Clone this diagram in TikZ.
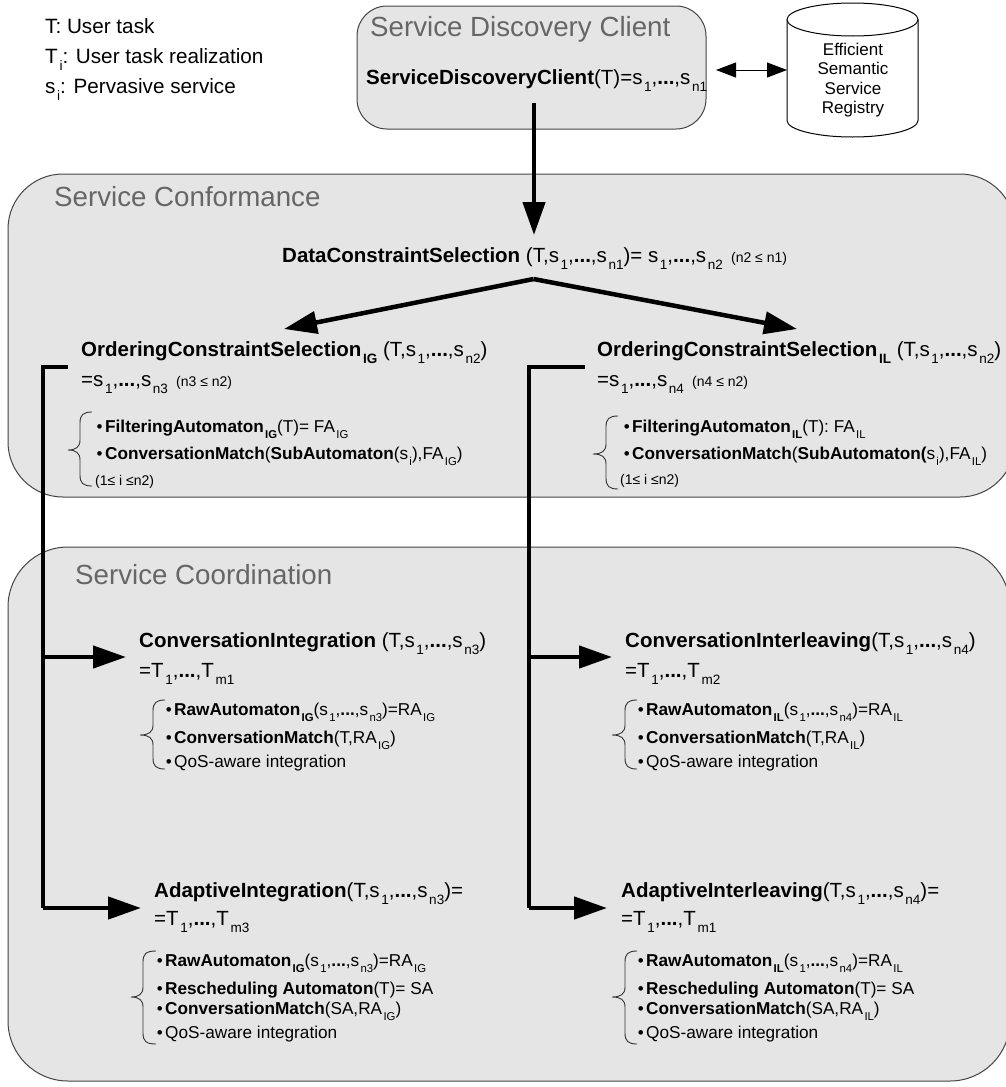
\documentclass[tikz,border=0pt]{standalone}
\usepackage{fontspec}
\setmainfont{Liberation Sans}
\usetikzlibrary{arrows.meta}
\definecolor{panel}{HTML}{E5E5E5}
\definecolor{edgegray}{HTML}{444444}
\definecolor{titlegray}{HTML}{666666}
\makeatletter
\newcommand\lo[1]{{\dimen0=\f@size pt \dimen0=.66\dimen0 \hspace{.08em}\raisebox{-.38em}{\fontsize{\strip@pt\dimen0}{\strip@pt\dimen0}\selectfont #1}}}
\makeatother
\newcommand\ddd{\textbf{...}}
\newcommand\bu{\llap{\raisebox{.0em}{\fontsize{17}{17}\selectfont\textbullet}\hspace{2.5pt}}}
\newcommand\note[1]{{\fontsize{14}{14}\selectfont #1}}
\newcommand\curly[6]{% tip spine end top mid bot
  \draw[bracestyle] (#3,#4) .. controls (#2+3,#4) and (#2,#4+3) .. (#2,#4+11) -- (#2,#5-10)
    .. controls (#2,#5-3) and (#2-4,#5) .. (#1,#5)
    .. controls (#2-4,#5) and (#2,#5+3) .. (#2,#5+10) -- (#2,#6-11)
    .. controls (#2,#6-3) and (#2+3,#6) .. (#3,#6);}
\tikzset{
  panelbox/.style={draw=edgegray,fill=panel,line width=1pt},
  title/.style={anchor=base west,inner sep=0pt,text=titlegray,font=\fontsize{27.7}{30}\selectfont},
  head/.style={anchor=base west,inner sep=0pt,font=\fontsize{20.5}{24}\selectfont},
  legend/.style={anchor=base west,inner sep=0pt,font=\fontsize{20.7}{24}\selectfont},
  item/.style={anchor=base west,inner sep=0pt,font=\fontsize{17.2}{20}\selectfont},
  tiny/.style={anchor=base west,inner sep=0pt,font=\fontsize{14}{15}\selectfont},
  bracestyle/.style={draw=black!80,line width=.9pt},
  flow/.style={line width=4.5pt,-{Triangle[length=33pt,width=22pt]}},
  flowend/.style={line width=4.7pt,line cap=butt,line join=miter},
  twoway/.style={draw=black,line width=1pt,{Triangle[length=20pt,width=15pt]}-{Triangle[length=20pt,width=15pt]}},
  regline/.style={draw=black,line width=1pt,fill=white},
}
\begin{document}
\begin{tikzpicture}[x=1pt,y=-1pt]
\useasboundingbox (0,0) rectangle (1006,1087);
\fill[white] (0,0) rectangle (1006,1087);
% panels
\path[panelbox,rounded corners=30pt] (357,6) rectangle (706,129);
\path[panelbox,rounded corners=55pt] (8,174) rectangle (1015,497);
\path[panelbox,rounded corners=60pt] (8,547) rectangle (1010,1081);
% registry
\draw[regline] (787,19.5) arc[start angle=180,end angle=0,x radius=65.5,y radius=-16.5] -- (918,120.5) arc[start angle=0,end angle=-180,x radius=65.5,y radius=-16.5] -- cycle;
\draw[regline,fill=none] (787,19.5) arc[start angle=180,end angle=360,x radius=65.5,y radius=-16.5];
\node[minimum width=131pt,minimum height=134pt,inner sep=0pt,outer sep=0pt] (registry) at (852.5,70) {};
\node[anchor=center,inner sep=0pt,font=\fontsize{17}{19.3}\selectfont,align=center] (registrytext) at (853,80) {Efficient\\Semantic\\Service\\Registry};
% legend
\node[legend] (l1) at (45,33) {T: User task};
\node[legend] (l2) at (45,63) {T\lo{i}: User task realization};
\node[legend] (l3) at (45,93) {s\lo{i}: Pervasive service};
% titles
\node[title] (t1) at (370,36) {Service Discovery Client};
\node[title] (t2) at (54,206) {Service Conformance};
\node[title] (t3) at (75,584) {Service Coordination};
% client
\node[head] (sdc) at (366,84) {\textbf{ServiceDiscoveryClient}(T)=s\lo{1},\ddd,s\lo{n1}};
% data
\node[head] (dcs) at (282,262) {\textbf{DataConstraintSelection} (T,s\lo{1},\ddd,s\lo{n1})= s\lo{1},\ddd,s\lo{n2}\hspace{.4em}\note{(n2 ≤ n1)}};
% ordering IG
\node[head] (og) at (81,356) {\textbf{OrderingConstraintSelection\lo{IG}} (T,s\lo{1},\ddd,s\lo{n2})};
\node[head] (og2) at (81,386) {=s\lo{1},\ddd,s\lo{n3}\hspace{.4em}\note{(n3 ≤ n2)}};
\node[item] (og3) at (105,432) {\bu\textbf{FilteringAutomaton\lo{IG}}(T)= FA\lo{IG}};
\node[item] (og4) at (105,459) {\bu\textbf{ConversationMatch}(\textbf{SubAutomaton}(s\lo{i}),FA\lo{IG})};
\node[tiny] (og5) at (95,485) {(1≤ i ≤n2)};
% ordering IL
\node[head] (ol) at (597,356) {\textbf{OrderingConstraintSelection\lo{IL}} (T,s\lo{1},\ddd,s\lo{n2})};
\node[head] (ol2) at (597,386) {=s\lo{1},\ddd,s\lo{n4}\hspace{.4em}\note{(n4 ≤ n2)}};
\node[item] (ol3) at (632,432) {\bu\textbf{FilteringAutomaton\lo{IL}}(T): FA\lo{IL}};
\node[item] (ol4) at (632,459) {\bu\textbf{ConversationMatch}(\textbf{SubAutomaton(}s\lo{i}),FA\lo{IL})};
\node[tiny] (ol5) at (620,484) {(1≤ i ≤n2)};
% conversation integration
\node[head] (ci) at (139,647) {\textbf{ConversationIntegration} (T,s\lo{1},\ddd,s\lo{n3})};
\node[head] (ci2) at (139,677) {=T\lo{1},\ddd,T\lo{m1}};
\node[item] (ci3) at (174,715) {\bu\textbf{RawAutomaton\lo{IG}}(s\lo{1},\ddd,s\lo{n3})=RA\lo{IG}};
\node[item] (ci4) at (174,743) {\bu\textbf{ConversationMatch}(T,RA\lo{IG})};
\node[item] (ci5) at (174,767) {\bu QoS-aware integration};
% conversation interleaving
\node[head] (cl) at (625,647) {\textbf{ConversationInterleaving}(T,s\lo{1},\ddd,s\lo{n4})};
\node[head] (cl2) at (625,677) {=T\lo{1},\ddd,T\lo{m2}};
\node[item] (cl3) at (646,715) {\bu\textbf{RawAutomaton\lo{IL}}(s\lo{1},\ddd,s\lo{n4})=RA\lo{IL}};
\node[item] (cl4) at (646,743) {\bu\textbf{ConversationMatch}(T,RA\lo{IL})};
\node[item] (cl5) at (646,767) {\bu QoS-aware integration};
% adaptive integration
\node[head] (ai) at (154,897) {\textbf{AdaptiveIntegration}(T,s\lo{1},\ddd,s\lo{n3})=};
\node[head] (ai2) at (154,925) {=T\lo{1},\ddd,T\lo{m3}};
\node[item] (ai3) at (165,966) {\bu\textbf{RawAutomaton\lo{IG}}(s\lo{1},\ddd,s\lo{n3})=RA\lo{IG}};
\node[item] (ai4) at (165,994) {\bu\textbf{Rescheduling Automaton}(T)= SA};
\node[item] (ai5) at (165,1014) {\bu\textbf{ConversationMatch}(SA,RA\lo{IG})};
\node[item] (ai6) at (165,1038) {\bu QoS-aware integration};
% adaptive interleaving
\node[head] (al) at (621,897) {\textbf{AdaptiveInterleaving}(T,s\lo{1},\ddd,s\lo{n4})=};
\node[head] (al2) at (621,925) {=T\lo{1},\ddd,T\lo{m1}};
\node[item] (al3) at (646,966) {\bu\textbf{RawAutomaton\lo{IL}}(s\lo{1},\ddd,s\lo{n4})=RA\lo{IL}};
\node[item] (al4) at (646,994) {\bu\textbf{Rescheduling Automaton}(T)= SA};
\node[item] (al5) at (646,1014) {\bu\textbf{ConversationMatch}(SA,RA\lo{IL})};
\node[item] (al6) at (646,1038) {\bu QoS-aware integration};
% braces
\curly{68}{80}{92}{412}{450}{486}
\curly{593}{606}{618}{416}{454}{489}
\curly{140}{153}{165}{700}{735}{769}
\curly{612}{625}{637}{700}{735}{769}
\curly{131}{143}{156}{951}{997}{1044}
\curly{612}{625}{637}{951}{997}{1044}
% connector anchors
\coordinate (c0) at (534,103);
\coordinate (c1) at (534,235);
\coordinate (fork) at (533.5,279);
\coordinate (ogt) at (284,329);
\coordinate (olt) at (797,329);
\coordinate (lstart) at (68,367);
\coordinate (lcorner) at (43,367);
\coordinate (lb) at (43,657);
\coordinate (lc) at (43,908);
\coordinate (rstart) at (585,367);
\coordinate (rcorner) at (529,367);
\coordinate (rb) at (529,657);
\coordinate (rc) at (529,908);
\coordinate (la) at (126,657);
\coordinate (ld) at (141,908);
\coordinate (ra) at (612,657);
\coordinate (rd) at (607,908);
\coordinate (dl) at (716,70);
% connectors
\draw[flow] (c0) -- (c1);
\draw[flow] (fork) -- (ogt);
\draw[flow] (fork) -- (olt);
\draw[flowend] (lstart) -- (lcorner) -- (lc);
\draw[flowend] (rstart) -- (rcorner) -- (rc);
\draw[flow] (lb) -- (la);
\draw[flow] (lc) -- (ld);
\draw[flow] (rb) -- (ra);
\draw[flow] (rc) -- (rd);
\draw[twoway] (dl) -- (registry.west);
\end{tikzpicture}
\end{document}
